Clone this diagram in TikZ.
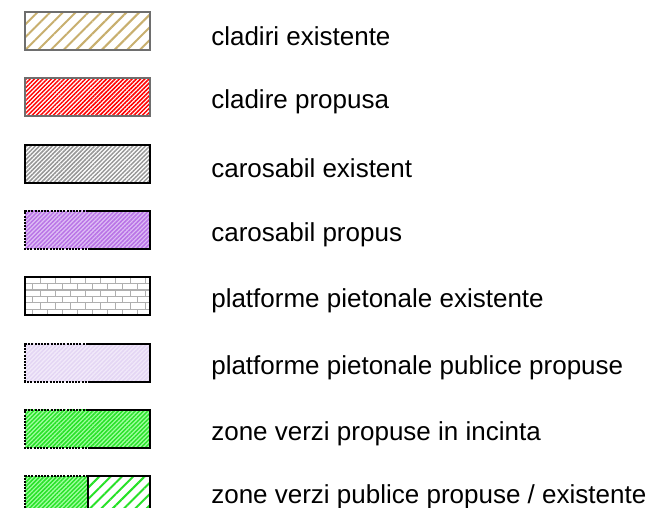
\documentclass[tikz,border=0pt]{standalone}
\usepackage{fontspec}
\setmainfont{Liberation Sans}
\usetikzlibrary{patterns.meta}
\usetikzlibrary{positioning}
\definecolor{mtan}{RGB}{200, 175, 110}
\definecolor{mframe}{RGB}{110, 110, 110}
\definecolor{mgray}{RGB}{150, 150, 150}
\definecolor{mviolet}{RGB}{185, 115, 230}
\definecolor{mlilac}{RGB}{222, 190, 245}
\definecolor{mpale}{RGB}{242, 234, 250}
\definecolor{mpaleline}{RGB}{228, 214, 244}
\definecolor{mgreen}{RGB}{40, 225, 40}
\definecolor{mlightgreen}{RGB}{160, 255, 160}
\definecolor{mbrick}{RGB}{175, 175, 175}
\tikzset{swatch/.style = {minimum width = 125pt, minimum height = 38pt, inner sep = 0, outer sep = 0, line width = 2pt}}
\tikzset{legend/.style = {font = \fontsize{26}{31}\selectfont, inner sep = 0, outer sep = 0, anchor = base west, yshift = -4.8pt}}
\tikzset{hatch/.style 2 args = {pattern = {Lines[angle = 45, distance = #1, line width = 0.5*#1]}, pattern color = #2}}
\tikzset{dotline/.style = {line width = 2pt, dash pattern = on 2pt off 1.2pt}}

\begin{document}
\begin{tikzpicture}[x = 1pt, y = -1pt]
      \useasboundingbox (0, 0) rectangle (651, 508);
      \clip (0, 0) rectangle (651, 508);

      \node [swatch, draw = mframe, pattern = {Lines[angle = 45, distance = 9pt, line width = 2pt]}, pattern color = mtan] (sw1) at (87.8, 31) {};
      \node [legend, right = 61pt of sw1.east] (t1) {cladiri existente};

      \node [swatch, below = 28.3pt of sw1, draw = mframe, hatch = {3pt}{red}] (sw2) {};
      \node [legend, right = 61pt of sw2.east] (t2) {cladire propusa};

      \node [swatch, below = 28.3pt of sw2, draw = black, hatch = {3pt}{mgray}] (sw3) {};
      \node [legend, right = 61pt of sw3.east] (t3) {carosabil existent};

      \node [swatch, below = 28.3pt of sw3, preaction = {fill = mlilac}, hatch = {3pt}{mviolet}] (sw4) {};
      \draw [line width = 2pt] (sw4.north) -- (sw4.north east) -- (sw4.south east) -- (sw4.south);
      \draw [dotline] (sw4.north) -- (sw4.north west) -- (sw4.south west) -- (sw4.south);
      \node [legend, right = 61pt of sw4.east] (t4) {carosabil propus};

      \node [swatch, below = 28.3pt of sw4] (sw5) {};
      \begin{scope}
        \clip (sw5.north west) rectangle (sw5.south east);
        \foreach \r [evaluate = \r as \off using {7.5*mod(\r, 2)}, evaluate = \r as \dy using {-6.4*\r}] in {0, ..., 5} {
          \draw [mbrick, line width = 1.3pt] ([yshift = \dy pt] sw5.north west) -- ([yshift = \dy pt] sw5.north east);
          \foreach \c [evaluate = \c as \dx using {15*\c + \off}] in {0, ..., 9} {
            \draw [mbrick, line width = 1.3pt] ([xshift = \dx pt, yshift = \dy pt] sw5.north west) -- ++(0, 6.4);
          }
        }
      \end{scope}
      \draw [line width = 2pt] (sw5.north west) rectangle (sw5.south east);
      \node [legend, right = 61pt of sw5.east] (t5) {platforme pietonale existente};

      \node [swatch, below = 28.3pt of sw5, preaction = {fill = mpale}, hatch = {3pt}{mpaleline}] (sw6) {};
      \draw [line width = 2pt] (sw6.north) -- (sw6.north east) -- (sw6.south east) -- (sw6.south);
      \draw [dotline] (sw6.north) -- (sw6.north west) -- (sw6.south west) -- (sw6.south);
      \node [legend, right = 61pt of sw6.east] (t6) {platforme pietonale publice propuse};

      \node [swatch, below = 28.3pt of sw6, preaction = {fill = mlightgreen}, hatch = {3pt}{mgreen}] (sw7) {};
      \draw [line width = 2pt] (sw7.north) -- (sw7.north east) -- (sw7.south east) -- (sw7.south);
      \draw [dotline] (sw7.north) -- (sw7.north west) -- (sw7.south west) -- (sw7.south);
      \node [legend, right = 61pt of sw7.east] (t7) {zone verzi propuse in incinta};

      \node [swatch, below = 28.3pt of sw7, pattern = {Lines[angle = 45, distance = 8pt, line width = 2pt]}, pattern color = mgreen] (sw8) {};
      \fill [preaction = {fill = mlightgreen}, hatch = {3pt}{mgreen}] (sw8.north west) rectangle (sw8.south);
      \draw [line width = 2pt] (sw8.north) -- (sw8.north east) -- (sw8.south east) -- (sw8.south) -- cycle;
      \draw [dotline] (sw8.north) -- (sw8.north west) -- (sw8.south west) -- (sw8.south);
      \node [legend, right = 61pt of sw8.east, yshift = 3pt] (t8) {zone verzi publice propuse / existente};
\end{tikzpicture}
\end{document}
